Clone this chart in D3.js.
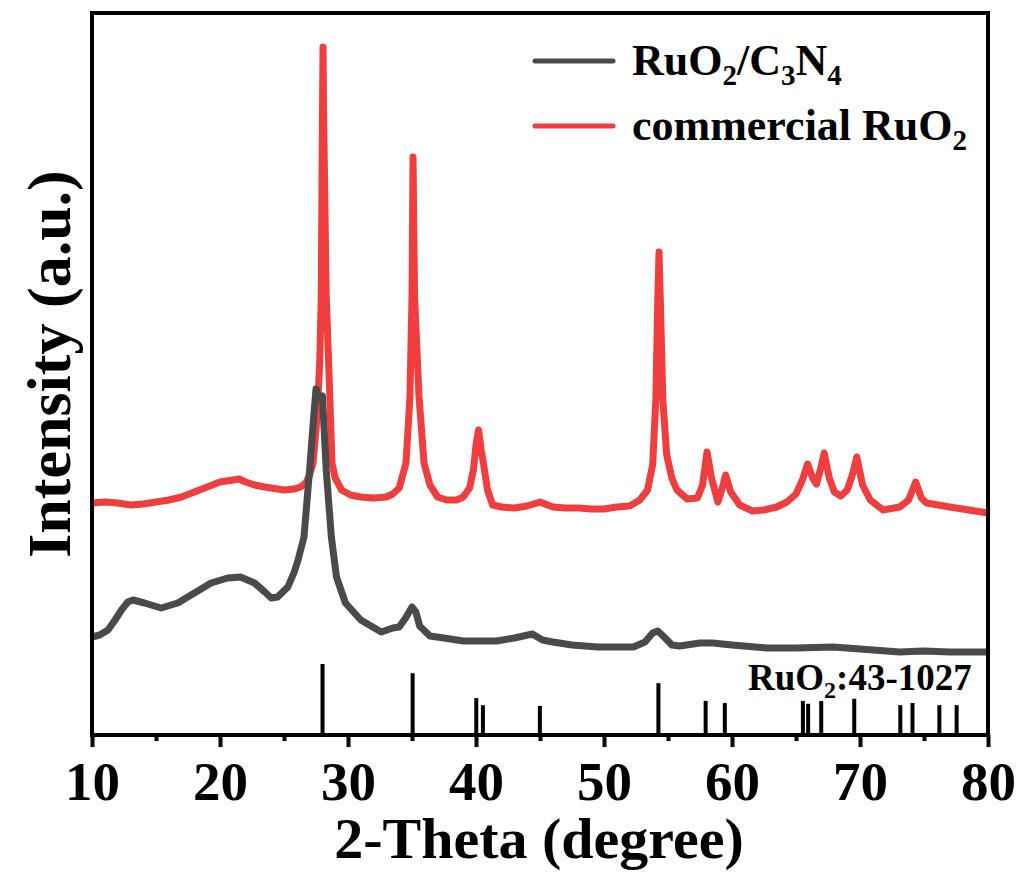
<!DOCTYPE html>
<html>
<head>
<meta charset="utf-8">
<script src="https://cdn.jsdelivr.net/npm/d3@7"></script>
<style>
  body { margin: 0; background: #fff; }
  svg { display: block; }
</style>
</head>
<body>
<svg width="1022" height="873"></svg>
<script>
// 2-theta (deg) / intensity (a.u.)
const redTheta = [10, 11, 12, 13, 14, 15, 16, 17, 18, 19, 20, 21, 21.5, 22, 22.7, 23.5, 24, 25, 25.8, 26.3, 26.7,
  27.0, 27.27, 27.5, 27.65, 27.79, 27.91, 28.0, 28.05, 28.1, 28.3, 28.49, 28.75, 29.0, 29.5, 30.2, 31, 32, 33, 33.5, 34,
  34.53, 34.84, 35.0, 35.08, 35.2, 35.55, 35.94, 36.4, 37, 37.7, 38.5, 39.0, 39.5, 39.8, 40.0, 40.2, 40.4, 40.6, 40.9,
  41.3, 42, 43, 44, 45, 46, 47, 48, 49, 50, 51, 52, 52.8, 53.4, 53.8, 54.05, 54.2, 54.3, 54.4, 54.6, 54.9, 55.3, 55.7,
  56.5, 57.3, 57.7, 58.05, 58.4, 58.9, 59.2, 59.5, 59.9, 60.6, 61.6, 62.5, 63.5, 64.3, 65.0, 65.5, 65.9, 66.3, 66.6,
  66.9, 67.2, 67.6, 68.0, 68.5, 69.0, 69.4, 69.75, 70.2, 70.8, 71.8, 73.1, 73.8, 74.35, 74.8, 75.2, 77, 78.5, 80];
const redInt = [232, 233, 232, 230, 231, 233, 235, 238, 243, 248, 253, 255, 256, 253, 250, 248, 247, 245, 246, 248, 252,
  260, 272, 305, 335, 372, 438, 615, 688, 615, 438, 372, 272, 257, 245, 240, 238, 237, 238, 241, 247,
  272, 338, 438, 578, 438, 338, 272, 250, 238, 235, 235, 238, 247, 265, 290, 305, 285, 270, 245,
  230, 228, 227, 229, 233, 228, 227, 227, 226, 226, 228, 229, 235, 245, 270, 335, 435, 483, 435, 335, 280, 257, 245,
  236, 237, 250, 283, 257, 233, 245, 260, 243, 230, 224, 225, 228, 233, 241, 255, 271, 257, 251,
  265, 282, 257, 243, 239, 245, 260, 278, 250, 235, 225, 228, 235, 253, 237, 232, 228, 225, 222];

const blackTheta = [10, 10.6, 11.25, 11.8, 12.3, 12.8, 13.2, 14.1, 15.4, 16.7, 18, 19.3, 20.6, 21.6, 22.7, 23.5, 24.0,
  24.5, 25.3, 25.8, 26.1, 26.56, 27.0, 27.3, 27.5, 27.75, 28.0, 28.3, 28.7, 29.1, 29.8, 31, 32.6, 33.5, 34.0, 34.5,
  35.0, 35.3, 35.6, 36.4, 37.5, 39, 40.5, 41.6, 43, 44.4, 45.2, 46, 47.5, 49.5, 51, 52.3, 53.2, 53.8, 54.2, 54.7,
  55.3, 55.9, 57.5, 58.5, 60, 62.7, 65, 67.9, 70, 73.1, 75, 77, 80];
const blackInt = [98, 100, 105, 115, 125, 133, 135, 132, 127, 132, 142, 152, 157, 158, 152, 143, 137,
  138, 148, 163, 175, 198, 265, 315, 346, 337, 339, 265, 198, 158, 132, 115, 103, 107, 108, 117,
  128, 123, 109, 99, 97, 94, 94, 94, 97, 101, 95, 93, 90, 88, 88, 88, 93, 102, 104, 98,
  90, 89, 92, 92, 90, 87, 87, 88, 86, 83, 84, 83, 83];

// RuO2 standard card 43-1027: positions and relative intensities
const refTheta = [28.01, 35.05, 40.02, 40.54, 44.99, 54.25, 57.94, 59.44, 65.54, 65.95, 66.97, 69.55, 73.15, 74.1, 76.2, 77.55];
const refRel = [100, 87, 52, 42, 41, 73, 48, 45, 48, 44, 48, 51, 42, 45, 42, 42];

const majorTicks = [10, 20, 30, 40, 50, 60, 70, 80];
const minorTicks = [15, 25, 35, 45, 55, 65, 75];

const series = [
  { name: "RuO2/C3N4", theta: blackTheta, val: blackInt, color: "#4a4a4a", width: 7 },
  { name: "commercial RuO2", theta: redTheta, val: redInt, color: "#ef3e3e", width: 7 }
];

const FONT = "'Liberation Serif', 'Times New Roman', serif";
const L = 92, R = 988, T = 13, B = 735;
const svg = d3.select("svg");

const x = d3.scaleLinear().domain([10, 80]).range([L, R]);
const y = d3.scaleLinear().domain([0, 722]).range([B, T]);
const stick = d3.scaleLinear().domain([0, 100]).range([0, 71]);

const line = d3.line().x(d => x(d[0])).y(d => y(d[1]));

const label = (sel, size) => sel.style("font-family", FONT).style("font-weight", "bold")
  .style("font-size", size + "px").attr("fill", "#000");

// curves
series.slice().reverse().forEach(s => {
  svg.append("path")
    .datum(s.theta.map((t, i) => [t, s.val[i]]))
    .attr("d", line)
    .attr("fill", "none")
    .attr("stroke", s.color)
    .attr("stroke-width", s.width)
    .attr("stroke-linejoin", "round");
});

// reference sticks
svg.append("g").selectAll("line")
  .data(refTheta.map((t, i) => [t, refRel[i]]))
  .join("line")
  .attr("x1", d => x(d[0])).attr("x2", d => x(d[0]))
  .attr("y1", B).attr("y2", d => B - stick(d[1]))
  .attr("stroke", "#000").attr("stroke-width", 4);

const refLabel = svg.append("text").attr("x", 748).attr("y", 690).call(label, 37);
refLabel.append("tspan").text("RuO");
refLabel.append("tspan").text("2").style("font-size", "24px").attr("dy", 8);
refLabel.append("tspan").text(":43-1027").attr("dy", -8);

// axes
const gx = svg.append("g").attr("transform", `translate(0,${B})`);
gx.call(d3.axisBottom(x).tickValues(majorTicks).tickSize(12).tickPadding(14).tickFormat(d3.format("d")));
gx.select(".domain").remove();
gx.selectAll(".tick line").attr("stroke-width", 4);
gx.selectAll(".tick text").call(label, 55);

const gm = svg.append("g").attr("transform", `translate(0,${B})`);
gm.call(d3.axisBottom(x).tickValues(minorTicks).tickSize(6).tickFormat(""));
gm.select(".domain").remove();
gm.selectAll(".tick line").attr("stroke-width", 4);

svg.append("rect")
  .attr("x", L).attr("y", T).attr("width", R - L).attr("height", B - T)
  .attr("fill", "none").attr("stroke", "#000").attr("stroke-width", 4);

// axis titles
svg.append("text").attr("x", (L + R) / 2 - 1).attr("y", 858).attr("text-anchor", "middle")
  .call(label, 58).text("2-Theta (degree)");
svg.append("text").attr("transform", "translate(70,364) rotate(-90)").attr("text-anchor", "middle")
  .call(label, 62).text("Intensity (a.u.)");

// legend
const leg = svg.append("g");
series.forEach((s, i) => {
  const ly = 61 + i * 65;
  leg.append("line").attr("x1", 535).attr("x2", 613).attr("y1", ly).attr("y2", ly)
    .attr("stroke", s.color).attr("stroke-width", 5).attr("stroke-linecap", "round");
  const t = leg.append("text").attr("x", 632).attr("y", ly + 14).call(label, 44);
  const sub = str => t.append("tspan").text(str).style("font-size", "29px").attr("dy", 10);
  if (i === 0) {
    t.append("tspan").text("RuO");
    sub("2");
    t.append("tspan").text("/C").attr("dy", -10);
    sub("3");
    t.append("tspan").text("N").attr("dy", -10);
    sub("4");
  } else {
    t.append("tspan").text("commercial RuO");
    sub("2");
  }
});
</script>
</body>
</html>
